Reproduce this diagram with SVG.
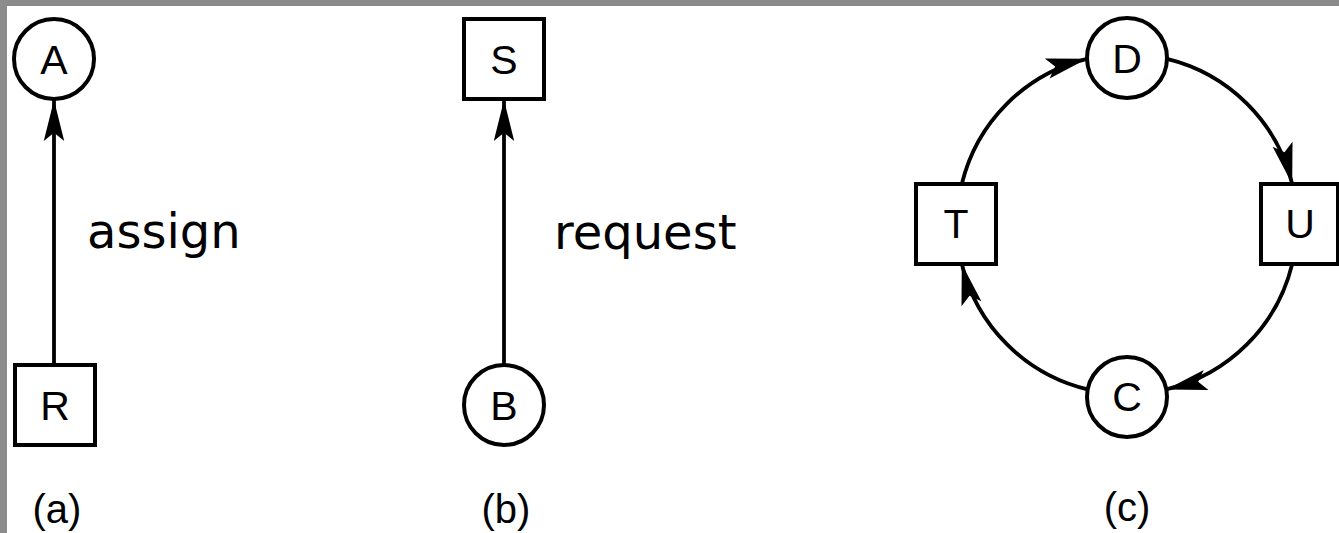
<svg xmlns="http://www.w3.org/2000/svg" width="1339" height="533" viewBox="0 0 1339 533">
<style>
.node{fill:#fff;stroke:#000;stroke-width:4}
.lbl{font-family:"Liberation Sans",Arial,sans-serif;font-size:41px;text-anchor:middle;fill:#000}
.cap{font-family:"Liberation Sans",Arial,sans-serif;font-size:40px;text-anchor:middle;fill:#000}
.edge{font-family:"DejaVu Sans",Verdana,sans-serif;font-size:48px;fill:#000}
.conn{fill:none;stroke:#000;stroke-width:3.8}
</style>
<defs>
<marker id="arr" markerUnits="userSpaceOnUse" markerWidth="44" markerHeight="24" viewBox="-42 -11 43 22" refX="0" refY="0" orient="auto">
<path d="M0,0 L-40,-10 L-32,0 L-40,10 Z" fill="#000"/>
</marker>
</defs>
<rect x="0" y="0" width="1339" height="533" fill="#fff"/>
<rect x="0" y="0" width="1339" height="6" fill="#8a8a8a"/>
<rect x="0" y="0" width="7" height="533" fill="#8c8c8c"/>
<g id="connectors">
<line class="conn" x1="54" y1="365" x2="54" y2="100" marker-end="url(#arr)"/>
<line class="conn" x1="504" y1="365" x2="504" y2="100" marker-end="url(#arr)"/>
<path class="conn" d="M961.8,184 A170,170 0 0 1 1087,58.8" marker-end="url(#arr)"/>
<path class="conn" d="M1167,58.8 A170,170 0 0 1 1292.2,184" marker-end="url(#arr)"/>
<path class="conn" d="M1292.2,264 A170,170 0 0 1 1166.3,389.4" marker-end="url(#arr)"/>
<path class="conn" d="M1087.7,389.4 A170,170 0 0 1 961.8,264" marker-end="url(#arr)"/>
</g>
<g id="node-A"><circle class="node" cx="54" cy="59" r="40"/><text class="lbl" x="54" y="74">A</text></g>
<g id="node-R"><rect class="node" x="15" y="365" width="80" height="80"/><text class="lbl" x="55" y="420">R</text></g>
<g id="node-S"><rect class="node" x="464" y="19" width="80" height="80"/><text class="lbl" x="504" y="74">S</text></g>
<g id="node-B"><circle class="node" cx="504" cy="405" r="40"/><text class="lbl" x="504" y="420">B</text></g>
<g id="node-D"><circle class="node" cx="1127" cy="58" r="40"/><text class="lbl" x="1127" y="73">D</text></g>
<g id="node-T"><rect class="node" x="916" y="184" width="80" height="80"/><text class="lbl" x="956" y="238">T</text></g>
<g id="node-U"><rect class="node" x="1261" y="184" width="77" height="80"/><text class="lbl" x="1300" y="238">U</text></g>
<g id="node-C"><circle class="node" cx="1127" cy="397" r="40"/><text class="lbl" x="1127" y="411">C</text></g>
<text class="edge" x="87" y="248">assign</text>
<text class="edge" x="554" y="249">request</text>
<text class="cap" x="57" y="523">(a)</text>
<text class="cap" x="506" y="523">(b)</text>
<text class="cap" x="1127" y="521">(c)</text>
</svg>
